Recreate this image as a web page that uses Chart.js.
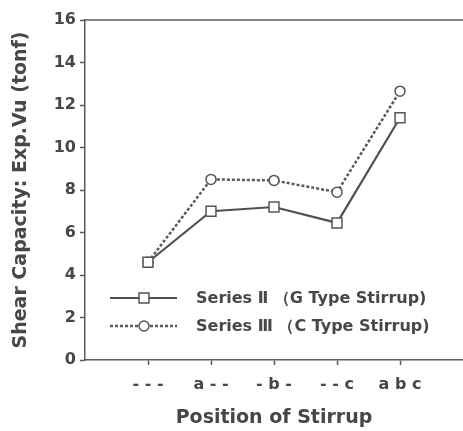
<!DOCTYPE html>
<html>
<head>
<meta charset="utf-8">
<script src="https://cdn.jsdelivr.net/npm/chart.js@4/dist/chart.umd.min.js"></script>
<style>
  body { margin: 0; background: #fff; }
  canvas { display: block; }
</style>
</head>
<body>
<canvas id="shearChart" width="463" height="431"></canvas>
<script>
// positions of stirrup (empty ends pad the axis like the original)
const positions = ['', '- - -', 'a - -', '- b -', '- - c', 'a b c', ''];
const seriesII = [null, 4.6, 7.0, 7.2, 6.45, 11.4, null];   // G type stirrup
const seriesIII = [null, 4.6, 8.5, 8.45, 7.9, 12.65, null]; // C type stirrup
const seriesNames = ['Series Ⅱ （G Type Stirrup)', 'Series Ⅲ （C Type Stirrup)'];
const yTicks = { min: 0, max: 16, step: 2 };

const ink = '#474747';
const fontFamily = '"DejaVu Sans", "Liberation Sans", sans-serif';

// top frame line and the in-plot legend
const framePlugin = {
    id: 'frame',
    afterDraw(chart) {
        const ctx = chart.ctx;
        const area = chart.chartArea;
        ctx.save();
        ctx.strokeStyle = '#5a5a5a';
        ctx.lineWidth = 1.5;
        ctx.beginPath();
        ctx.moveTo(area.left, area.top);
        ctx.lineTo(area.right, area.top);
        ctx.stroke();

        // legend rows
        const rows = [298, 326];
        chart.data.datasets.forEach(function (ds, i) {
            const y = rows[i];
            ctx.strokeStyle = ds.borderColor;
            ctx.lineWidth = ds.borderWidth;
            ctx.setLineDash(ds.borderDash || []);
            ctx.beginPath();
            ctx.moveTo(110, y);
            ctx.lineTo(177, y);
            ctx.stroke();
            ctx.setLineDash([]);

            ctx.fillStyle = '#fff';
            ctx.strokeStyle = ds.pointBorderColor;
            ctx.lineWidth = ds.pointBorderWidth;
            ctx.beginPath();
            if (ds.pointStyle === 'rect') {
                const s = ds.pointRadius * Math.SQRT1_2;
                ctx.rect(144 - s, y - s, 2 * s, 2 * s);
            } else {
                ctx.arc(144, y, ds.pointRadius, 0, Math.PI * 2);
            }
            ctx.fill();
            ctx.stroke();

            ctx.fillStyle = ink;
            ctx.font = 'bold 16px ' + fontFamily;
            ctx.textBaseline = 'middle';
            ctx.textAlign = 'left';
            ctx.fillText(ds.label, 196, y + 1);
        });
        ctx.restore();
    }
};

const ctx = document.getElementById('shearChart').getContext('2d');
new Chart(ctx, {
    type: 'line',
    data: {
        labels: positions,
        datasets: [{
            label: seriesNames[0],
            data: seriesII,
            borderColor: '#505050',
            borderWidth: 2.2,
            pointStyle: 'rect',
            pointRadius: 7,
            pointBorderWidth: 1.5,
            pointBorderColor: '#555',
            pointBackgroundColor: '#fff',
            tension: 0
        }, {
            label: seriesNames[1],
            data: seriesIII,
            borderColor: '#5a5a5a',
            borderWidth: 2.5,
            borderDash: [3, 2],
            pointStyle: 'circle',
            pointRadius: 5,
            pointBorderWidth: 1.5,
            pointBorderColor: '#555',
            pointBackgroundColor: '#fff',
            tension: 0
        }]
    },
    options: {
        responsive: false,
        animation: false,
        layout: { autoPadding: false, padding: { top: 20, right: -2, left: 0, bottom: 0 } },
        plugins: {
            legend: { display: false },
            tooltip: { enabled: false }
        },
        scales: {
            x: {
                offset: false,
                afterFit: function (axis) {
                    axis.height = 71;
                    axis.paddingLeft = 0;
                    axis.paddingRight = 0;
                },
                grid: {
                    drawOnChartArea: false,
                    tickLength: 5,
                    tickWidth: 1.5,
                    tickColor: function (c) {
                        return positions[c.index] ? '#5a5a5a' : 'rgba(0,0,0,0)';
                    }
                },
                border: { color: '#5a5a5a', width: 1.5 },
                ticks: {
                    autoSkip: false,
                    maxRotation: 0,
                    padding: 10,
                    color: ink,
                    font: { family: fontFamily, size: 16, weight: 'bold' }
                },
                title: {
                    display: true,
                    text: 'Position of Stirrup',
                    color: ink,
                    padding: { top: 0, bottom: 2 },
                    font: { family: fontFamily, size: 19, weight: 'bold' }
                }
            },
            y: {
                min: yTicks.min,
                max: yTicks.max,
                afterFit: function (axis) { axis.width = 85; },
                grid: {
                    drawOnChartArea: false,
                    tickLength: 5,
                    tickWidth: 1.5,
                    tickColor: '#5a5a5a'
                },
                border: { color: '#5a5a5a', width: 1.5 },
                ticks: {
                    stepSize: yTicks.step,
                    padding: 4,
                    color: ink,
                    font: { family: fontFamily, size: 16, weight: 'bold' }
                },
                title: {
                    display: true,
                    text: 'Shear Capacity: Exp.Vu (tonf)',
                    color: ink,
                    padding: { top: 10, bottom: 0 },
                    font: { family: fontFamily, size: 19, weight: 'bold' }
                }
            }
        }
    },
    plugins: [framePlugin]
});
</script>
</body>
</html>
